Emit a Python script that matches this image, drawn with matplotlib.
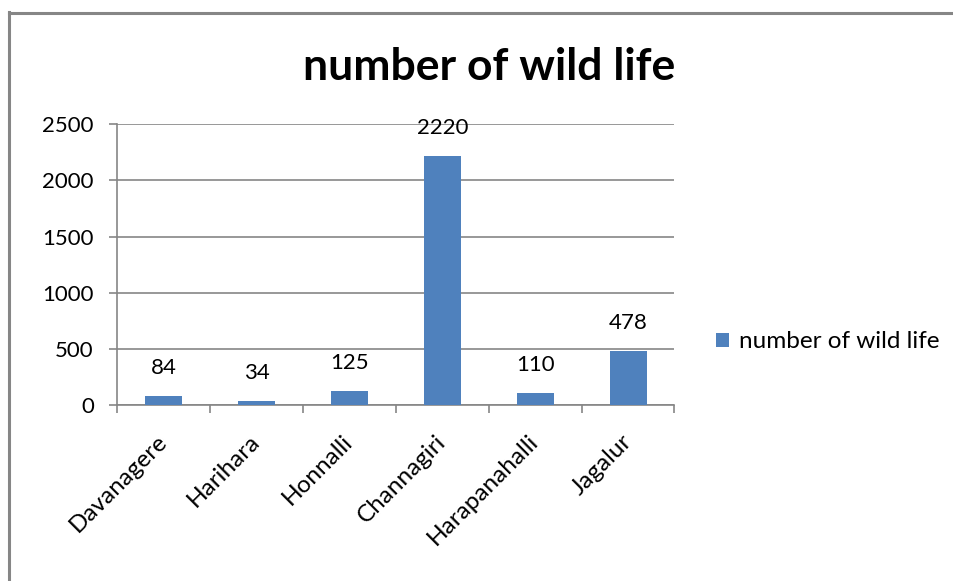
import matplotlib.pyplot as plt
from matplotlib.lines import Line2D

# Chart data
districts = ['Davanagere', 'Harihara', 'Honnalli', 'Channagiri', 'Harapanahalli', 'Jagalur']
wild_life = [84, 34, 125, 2220, 110, 478]
y_ticks = [0, 500, 1000, 1500, 2000, 2500]
series_name = 'number of wild life'

bar_color = '#4F81BD'
grid_color = '#868686'

plt.rcParams['font.family'] = ['Lato', 'DejaVu Sans']

W, H = 954, 581
fig = plt.figure(figsize=(W / 100, H / 100), dpi=100)
ax = fig.add_axes([117.5 / W, 1 - 405 / H, (674.5 - 117.5) / W, (405 - 124.3) / H])

# Bars
x = list(range(len(districts)))
bars = ax.bar(x, wild_life, width=0.4, color=bar_color, label=series_name, zorder=3)

# Data labels
for xi, v in zip(x, wild_life):
    ax.annotate(str(v), (xi, v), xytext=(0, 13), textcoords='offset points',
                ha='center', va='bottom', fontsize=16, color='black', zorder=4)

ax.set_xlim(-0.5, len(districts) - 0.5)
ax.set_ylim(0, 2500)
ax.set_yticks(y_ticks)
ax.set_yticklabels([str(t) for t in y_ticks], fontsize=16)

# Category boundary ticks
ax.set_xticks([i - 0.5 for i in range(len(districts) + 1)])
ax.set_xticklabels([])
ax.set_xticks(x, minor=True)
ax.set_xticklabels(districts, minor=True, rotation=45, ha='right', va='center',
                   rotation_mode='anchor', fontsize=17.5)
ax.tick_params(axis='x', which='minor', length=0, pad=24)
ax.tick_params(axis='x', which='major', length=6, width=1.2, color=grid_color, direction='out')
ax.tick_params(axis='y', length=6, width=1.2, color=grid_color, direction='out', pad=11)

ax.grid(axis='y', color=grid_color, linewidth=1.2, zorder=0)
for side in ['top', 'right']:
    ax.spines[side].set_visible(False)
for side in ['left', 'bottom']:
    ax.spines[side].set_color(grid_color)
    ax.spines[side].set_linewidth(1.2)

# Title
fig.text(489.5 / W, 1 - 67 / H, series_name, ha='center', va='center',
         fontsize=32, fontweight='bold')

# Legend
leg = fig.legend(handles=[bars], labels=[series_name], loc='center left',
                 bbox_to_anchor=(716 / W, 1 - 342 / H), frameon=False, fontsize=17.5,
                 borderpad=0, borderaxespad=0,
                 handlelength=0.55, handleheight=0.55, handletextpad=0.4)

# Outer border
fig.add_artist(Line2D([9.5 / W, 9.5 / W], [0, 1 - 12 / H], color=grid_color, linewidth=2.2))
fig.add_artist(Line2D([9.5 / W, 1], [1 - 13 / H, 1 - 13 / H], color=grid_color, linewidth=2.2))

fig.savefig('out.png', dpi=100)
